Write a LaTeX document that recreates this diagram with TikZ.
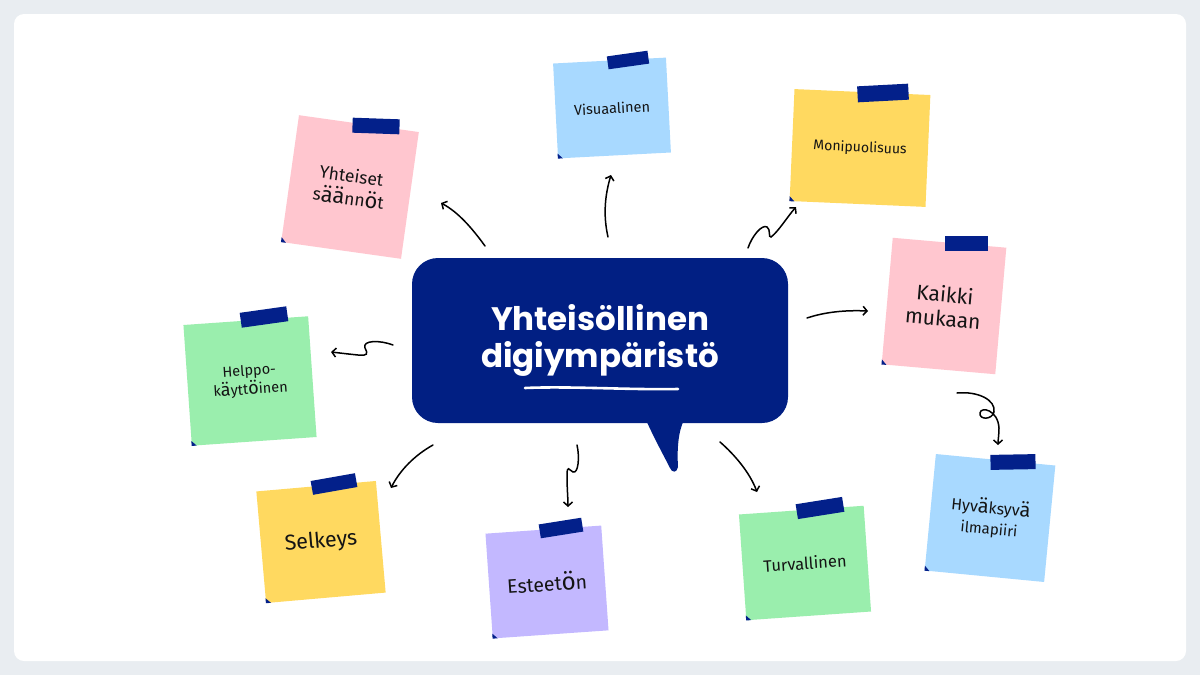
\documentclass[tikz,border=0pt]{standalone}
\usepackage{fontspec}
\usepackage{graphicx}
\setmainfont{Fira Sans}
\newfontfamily\titlefont{Poppins}
\usetikzlibrary{arrows.meta,calc}
\definecolor{bggray}{HTML}{E9EDF1}
\definecolor{navy}{HTML}{011F83}
\definecolor{tapec}{HTML}{03208A}
\definecolor{npink}{HTML}{FFC6CF}
\definecolor{nblue}{HTML}{A8D9FF}
\definecolor{nyellow}{HTML}{FFD960}
\definecolor{ngreen}{HTML}{9AEEAD}
\definecolor{npurple}{HTML}{C3B8FF}
\newcommand\Bg[1]{\scalebox{1.25}{#1}}
\newcommand\fs[1]{\fontsize{#1pt}{1.3\dimexpr#1pt\relax}\selectfont}
\tikzset{
  note/.style={inner sep=0pt, align=center, text=black!92},
  tape/.style={fill=tapec, inner sep=0pt},
  arr/.style={draw=black, line width=1.5pt, line cap=round,
    -{Straight Barb[length=4pt,width=9pt]}},
}
\begin{document}
\begin{tikzpicture}[x=1pt,y=-1pt]
\useasboundingbox (0,0) rectangle (1200,675);
\fill[bggray] (0,0) rectangle (1200,675);
\fill[white, rounded corners=10pt] (14,14) rectangle (1186,661);

% central bubble
\fill[navy] (646,420) .. controls (655,440) and (665,458) .. (670,468)
  .. controls (672,473) and (677,473) .. (678,467)
  .. controls (677,450) and (678,432) .. (684,420) -- cycle;
\node[fill=navy, rounded corners=26pt, minimum width=376pt, minimum height=165pt,
  inner sep=0pt] (c) at (600,340.5) {};
\node[text=white, align=center, font=\titlefont\bfseries\fontsize{32.5pt}{37pt}\selectfont]
  (ct) at (600,340) {Yhteisöllinen\\digiympäristö};
\draw[white, line width=2.6pt, line cap=round] (525,388) .. controls (570,386) and (630,390) .. (678,389);

% notes
\newcommand\stick[1]{\fill[tapec] (#1.south west) -- ($(#1.south west)!5pt!(#1.south east)$) -- ($(#1.south west)!5pt!(#1.north west)$) -- cycle;}

\node[note, fill=npink, minimum width=121pt, minimum height=128pt, rotate=-8,
  font=\fs{17.5}] (n1) at (350,187) {Yhteiset\\s\Bg{ää}nn\Bg{ö}t};
\node[tape, minimum width=47pt, minimum height=15pt, rotate=-2] (t1) at (376,126) {};
\stick{n1}

\node[note, fill=nblue, minimum width=113pt, minimum height=95pt, rotate=3,
  font=\fs{14.5}] (n2) at (612,108) {Visuaalinen};
\node[tape, minimum width=41pt, minimum height=13pt, rotate=8] (t2) at (628,60) {};
\stick{n2}

\node[note, fill=nyellow, minimum width=136pt, minimum height=112pt, rotate=-2.5,
  font=\fs{14}] (n3) at (860,148) {Monipuolisuus};
\node[tape, minimum width=51pt, minimum height=16pt, rotate=3] (t3) at (883,93) {};
\stick{n3}

\node[note, fill=npink, minimum width=114pt, minimum height=127pt, rotate=-5,
  font=\fontsize{21pt}{24pt}\selectfont] (n4) at (944,306) {Kaikki\\mukaan};
\node[tape, minimum width=43pt, minimum height=15pt, rotate=0] (t4) at (966,243) {};
\stick{n4}

\node[note, fill=nblue, minimum width=120pt, minimum height=117pt, rotate=-5.5,
  font=\fs{16}] (n5) at (990,518) {Hyv\Bg{ä}ksyv\Bg{ä}\\{\fs{15}ilmapiiri}};
\node[tape, minimum width=45pt, minimum height=15pt, rotate=1] (t5) at (1013,462) {};
\stick{n5}

\node[note, fill=ngreen, minimum width=125pt, minimum height=121pt, rotate=4,
  font=\fs{14.5}] (n6) at (250,381) {Helppo-\\k\Bg{ä}ytt\Bg{ö}inen};
\node[tape, minimum width=47pt, minimum height=15pt, rotate=8] (t6) at (264,317) {};
\stick{n6}

\node[note, fill=nyellow, minimum width=120pt, minimum height=112pt, rotate=5,
  font=\fs{21.5}] (n7) at (321,542) {Selkeys};
\node[tape, minimum width=45pt, minimum height=14pt, rotate=10] (t7) at (334,484) {};
\stick{n7}

\node[note, fill=npurple, minimum width=116pt, minimum height=105pt, rotate=4,
  font=\fs{19.5}] (n8) at (547,582) {Esteet\Bg{ö}n};
\node[tape, minimum width=43pt, minimum height=14pt, rotate=9] (t8) at (561,528) {};
\stick{n8}

\node[note, fill=ngreen, minimum width=125pt, minimum height=106pt, rotate=4,
  font=\fs{16.5}] (n9) at (805,563) {Turvallinen};
\node[tape, minimum width=47pt, minimum height=15pt, rotate=9] (t9) at (820,508) {};
\stick{n9}

% arrow end points
\coordinate (a1s) at (485,246); \coordinate (a1e) at (441,203);
\coordinate (a2s) at (608,237); \coordinate (a2e) at (611,175);
\coordinate (a3s) at (748,248); \coordinate (a3e) at (796,207);
\coordinate (a4s) at (807,318); \coordinate (a4e) at (868,311);
\coordinate (a5s) at (957,393); \coordinate (a5e) at (998,445);
\coordinate (a6s) at (393,345); \coordinate (a6e) at (331,352);
\coordinate (a7s) at (433,445); \coordinate (a7e) at (391,488);
\coordinate (a8s) at (577,445); \coordinate (a8e) at (568,507);
\coordinate (a9s) at (720,442); \coordinate (a9e) at (757,492);

\draw[arr] (a1s) .. controls (472,228) and (458,212) .. (a1e);
\draw[arr] (a2s) .. controls (603,215) and (605,195) .. (a2e);
\draw[arr] (a3s) .. controls (752,236) and (762,224) .. (767,227)
  .. controls (771,229) and (768,238) .. (771,237)
  .. controls (778,232) and (788,216) .. (a3e);
\draw[arr] (a4s) .. controls (825,312) and (845,310) .. (a4e);
\draw[arr] (a5s) .. controls (978,391) and (996,400) .. (994,412)
  .. controls (992,420) and (979,420) .. (980,413)
  .. controls (981,406) and (998,410) .. (999,428)
  .. controls (999,435) and (998,440) .. (a5e);
\draw[arr] (a6s) .. controls (380,340) and (362,340) .. (365,348)
  .. controls (368,354) and (368,356) .. (358,355)
  .. controls (348,354) and (340,353) .. (a6e);
\draw[arr] (a7s) .. controls (415,455) and (400,470) .. (a7e);
\draw[arr] (a8s) .. controls (580,458) and (578,474) .. (573,472)
  .. controls (569,470) and (567,464) .. (567,476)
  .. controls (567,488) and (568,498) .. (a8e);
\draw[arr] (a9s) .. controls (735,455) and (750,473) .. (a9e);
\end{tikzpicture}
\end{document}
